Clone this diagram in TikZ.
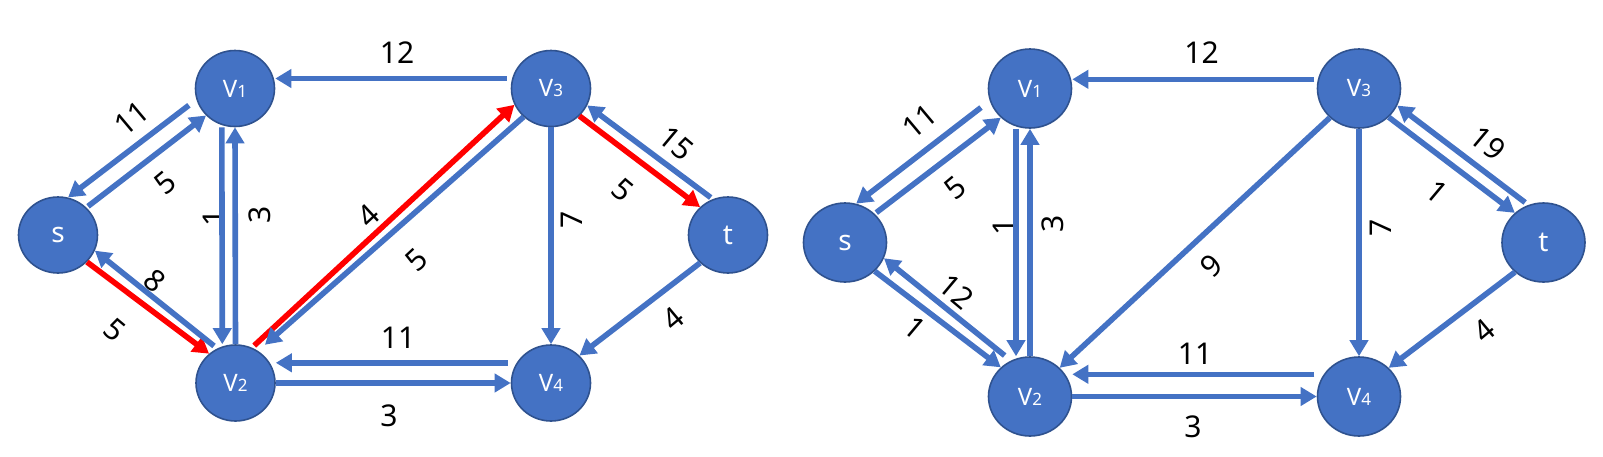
\documentclass[tikz,border=0pt]{standalone}
\usepackage{fontspec}
\setmainfont{Noto Sans}
\usetikzlibrary{shapes.geometric,arrows.meta}
\definecolor{nodeblue}{HTML}{4472C4}
\definecolor{nodeline}{HTML}{2F528F}
\newcommand{\vname}[1]{V{\fontsize{8.5}{9}\selectfont #1}}

\begin{document}
\begin{tikzpicture}[x=0.5pt,y=-0.5pt,
		vert/.style={ellipse,draw=nodeline,line width=0.8pt,fill=nodeblue,text=white,
			minimum width=39.5pt,minimum height=38pt,inner sep=0pt,font=\fontsize{12}{14}\selectfont},
		bigvert/.style={vert,minimum width=41.5pt,minimum height=39.5pt},
		edge/.style={draw=nodeblue,line width=2.8pt,-{Triangle[length=8pt,width=9pt]}},
		hot/.style={edge,draw=red},
		lab/.style={font=\fontsize{15}{17}\selectfont,inner sep=0pt}]
		\useasboundingbox (0,0) rectangle (1603,456);
		% left network
		\node[vert] (ls) at (58,235) {\fontsize{14}{16}\selectfont s};
		\node[vert] (lv1) at (235,88.5) {\vname{1}};
		\node[vert] (lv2) at (235.5,383) {\vname{2}};
		\node[vert] (lv3) at (551,88.5) {\vname{3}};
		\node[vert] (lv4) at (551,383) {\vname{4}};
		\node[vert] (lt) at (728,235) {\fontsize{14}{16}\selectfont t};
		\node[lab] (la1) at (397,53) {12};
		\node[lab,rotate=40] (la2) at (131.7,118.3) {11};
		\node[lab,rotate=40] (la3) at (165,183.3) {5};
		\node[lab,rotate=90] (la4) at (213.3,218.3) {1};
		\node[lab,rotate=90] (la5) at (260,215) {3};
		\node[lab,rotate=-40] (la6) at (115,330) {5};
		\node[lab,rotate=-40] (la7) at (155,281) {8};
		\node[lab,rotate=43] (la8) at (368,216) {4};
		\node[lab,rotate=43] (la9) at (416.7,260) {5};
		\node[lab,rotate=90] (la10) at (571.7,220) {7};
		\node[lab,rotate=-40] (la11) at (623.3,190) {5};
		\node[lab,rotate=-40] (la12) at (676.7,143.3) {15};
		\node[lab,rotate=40] (la13) at (673.3,318.3) {4};
		\node[lab] (la14) at (398,338) {11};
		\node[lab] (la15) at (389,416) {3};
		\draw[edge,shorten <=2pt] ([yshift=5pt]lv3.west) -- ([yshift=5pt]lv1.east);
		\draw[edge,shorten <=4.7pt] (lv1.196) -- (ls.75);
		\draw[edge,shorten <=1pt] (ls.44) -- (lv1.223);
		\draw[edge] ([xshift=-6.6pt]lv1.south) -- ([xshift=-6.6pt]lv2.north);
		\draw[edge] (lv2.north) -- (lv1.south);
		\draw[hot] (ls.-43) -- (lv2.132);
		\draw[edge,shorten <=2pt] (lv2.118) -- (ls.-23);
		\draw[hot,shorten <=1.5pt] (lv2.65) -- (lv3.204);
		\draw[edge,shorten >=4.6pt] (lv3.226) -- (lv2.55);
		\draw[edge] (lv3.south) -- (lv4.north);
		\draw[hot] (lv3.-44) -- (lt.135);
		\draw[edge,shorten <=1.3pt] (lt.113) -- (lv3.-25);
		\draw[edge] (lt.225) -- (lv4.44);
		\draw[edge,shorten <=1.6pt] ([yshift=10.1pt]lv4.west) -- ([yshift=10.1pt]lv2.east);
		\draw[edge] (lv2.east) -- (lv4.west);
		% right network
		\node[bigvert] (rs) at (845,242.5) {\fontsize{14}{16}\selectfont s};
		\node[bigvert] (rv1) at (1030,88.5) {\vname{1}};
		\node[bigvert] (rv2) at (1030,396.5) {\vname{2}};
		\node[bigvert] (rv3) at (1359,88.5) {\vname{3}};
		\node[bigvert] (rv4) at (1359,396.5) {\vname{4}};
		\node[bigvert] (rt) at (1543.5,242.5) {\fontsize{14}{16}\selectfont t};
		\node[lab] (ra1) at (1201.5,52.5) {12};
		\node[lab,rotate=40] (ra2) at (920,121.7) {11};
		\node[lab,rotate=40] (ra3) at (955,187.5) {5};
		\node[lab,rotate=90] (ra4) at (1004,227) {1};
		\node[lab,rotate=90] (ra5) at (1053,224) {3};
		\node[lab,rotate=-40] (ra6) at (956.7,291.7) {12};
		\node[lab,rotate=-40] (ra7) at (915,328) {1};
		\node[lab,rotate=43] (ra8) at (1211.7,266) {9};
		\node[lab,rotate=90] (ra9) at (1380.5,227.5) {7};
		\node[lab,rotate=-40] (ra10) at (1437,191.7) {1};
		\node[lab,rotate=-40] (ra11) at (1488,143.3) {19};
		\node[lab,rotate=40] (ra12) at (1484,331) {4};
		\node[lab] (ra13) at (1195,353.3) {11};
		\node[lab] (ra14) at (1193,427) {3};
		\draw[edge,shorten <=1.2pt] ([yshift=4.6pt]rv3.west) -- ([yshift=4.6pt]rv1.east);
		\draw[edge,shorten <=5.5pt] (rv1.197) -- (rs.74);
		\draw[edge,shorten <=1pt] (rs.44) -- (rv1.225);
		\draw[edge] ([xshift=-7pt]rv1.south) -- ([xshift=-7pt]rv2.north);
		\draw[edge] (rv2.north) -- (rv1.south);
		\draw[edge] (rs.-44) -- (rv2.135);
		\draw[edge,shorten <=4pt] (rv2.118) -- (rs.-22);
		\draw[edge] (rv3.225) -- (rv2.44);
		\draw[edge] (rv3.south) -- (rv4.north);
		\draw[edge] (rv3.-44) -- (rt.134);
		\draw[edge,shorten <=2pt] (rt.112) -- (rv3.-24);
		\draw[edge] (rt.226) -- (rv4.44);
		\draw[edge,shorten <=1.2pt] ([yshift=11.1pt]rv4.west) -- ([yshift=11.1pt]rv2.east);
		\draw[edge] (rv2.east) -- (rv4.west);
	\end{tikzpicture}
\end{document}
